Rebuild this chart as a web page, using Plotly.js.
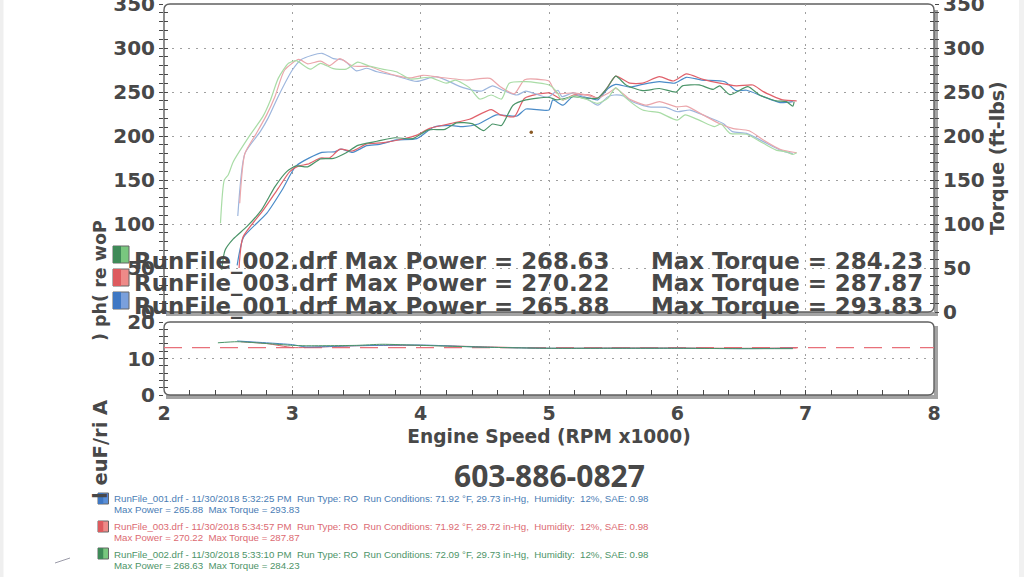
<!DOCTYPE html>
<html><head><meta charset="utf-8">
<script src="https://cdn.plot.ly/plotly-3.0.1.min.js"></script>
<style>html,body{margin:0;padding:0;background:#fff;overflow:hidden}#c{width:1024px;height:577px}</style>
</head><body><div id="c"></div><script>
const blueTorqueRpm=[2.575,2.63,2.75,2.81,2.89,3.0,3.07,3.23,3.32,3.40,3.5,3.58,3.66,3.79,3.97,4.12,4.33,4.47,4.56,4.64,4.75,4.82,4.99,5.07,5.1,5.19,5.29,5.38,5.46,5.51,5.58,5.65,5.78,5.91,6,6.1,6.23,6.36,6.43,6.54,6.67,6.8,6.9];
const blueTorque=[109,180,205,220,245,275,287,294,288,286,274,277,273,269,262,267.4,255,251,257,252,246.6,251,244,252,244.7,249,243,235,244.7,246.6,245.5,239,233,232.6,227.6,229.5,222,214,205,203,193.6,184,180];
const redTorqueRpm=[2.59,2.63,2.72,2.80,2.865,2.94,3.05,3.12,3.22,3.29,3.37,3.47,3.60,3.71,3.81,3.92,4.02,4.15,4.36,4.54,4.62,4.73,4.81,4.97,5.0,5.06,5.19,5.29,5.38,5.46,5.52,5.63,5.76,5.86,6.0,6.07,6.2,6.33,6.43,6.56,6.67,6.8,6.93];
const redTorque=[123.5,180,203,224,245,275,287,282,285,280,288,279.5,279,273,268.6,266,269,266.7,263.6,265.5,256,248,264,263.6,262.5,248.5,249,246.7,243,248.5,254,241.7,235,239,233,234,224,214,208.7,206,195.5,185,181];
const greenTorqueRpm=[2.44,2.47,2.50,2.54,2.67,2.77,2.83,2.89,2.97,3.03,3.14,3.22,3.32,3.42,3.51,3.60,3.71,3.81,3.92,4.07,4.20,4.27,4.38,4.46,4.55,4.63,4.69,4.82,5.0,5.06,5.10,5.19,5.29,5.38,5.46,5.52,5.60,5.73,5.86,6.0,6.06,6.17,6.29,6.34,6.41,6.54,6.67,6.77,6.85,6.90,6.93];
const greenTorque=[100.8,150,155.7,170.8,201,222,241,265.5,282.6,285.6,276,282.6,276.5,276,284,279.5,275.8,273,264.8,266.7,260,263.6,255,242,246.6,242,260,261.7,258,250.4,241,245.5,241.7,237,243,255,243,229.5,226.5,218,224,218,210.6,213.6,203,202,191.7,184,182,179,181];
const bluePowerRpm=[2.57,2.62,2.8,2.92,3.03,3.23,3.33,3.38,3.47,3.58,3.68,3.81,3.97,4.1,4.23,4.33,4.45,4.59,4.75,4.82,5.0,5.03,5.11,5.19,5.32,5.38,5.46,5.52,5.63,5.73,5.86,5.98,6.07,6.19,6.37,6.46,6.54,6.67,6.8,6.9];
const bluePower=[53,85,112,138.6,166,181.4,182,185,181.4,189,190.5,195.5,197,210,212,210.6,213.6,224,222.7,230.7,229.5,241,235,245.5,243,241,254,258.7,255.5,258.7,261.7,260,266.7,263.6,261.7,251.5,252,244.7,238,239];
const redPowerRpm=[2.585,2.615,2.775,2.89,2.98,3.05,3.12,3.22,3.29,3.37,3.47,3.58,3.71,3.86,3.97,4.07,4.23,4.38,4.55,4.62,4.73,4.81,5.0,5.11,5.19,5.32,5.38,5.45,5.52,5.63,5.73,5.86,5.97,6.07,6.2,6.33,6.46,6.59,6.67,6.82,6.93];
const redPower=[50,85,116,140.5,159.5,166,168,175,175,185,183,191,192.4,196.6,201,208.7,214,219,230,224,222,243,249,241,246.6,246.6,243,254,268,260,260,267.4,262.5,270.5,264.4,260,257,258,250.4,241,240];
const greenPowerRpm=[2.45,2.475,2.54,2.645,2.76,2.865,2.956,3.03,3.12,3.22,3.32,3.42,3.51,3.66,3.8,3.94,4.06,4.19,4.28,4.4,4.49,4.56,4.63,4.72,4.82,5,5.06,5.19,5.29,5.38,5.45,5.52,5.6,5.73,5.86,5.99,6.04,6.17,6.28,6.33,6.41,6.55,6.64,6.77,6.85,6.9,6.91];
const greenPower=[48,70,83,97,116,142.4,159.5,166,165,174,174.6,181,189.4,194,198,197,207,207.6,215,214,206,213.6,212,235,241,244,241,244.7,243,243,254,268,258,251.5,254,250,257,258,253,257,247,256,246.6,240,239,234,239];
const afrRpmA=[2.57,2.8,3.0,3.1,3.5,4,4.5,5,5.5,6,6.5,6.9];
const afrBlue=[14.8,14.3,13.8,13.2,13.5,13.7,13.1,12.8,12.8,12.8,12.7,12.8];
const afrRpmB=[2.6,2.8,3.0,3.1,3.5,4,4.5,5,5.5,6,6.5,6.93];
const afrRed=[14.6,14.1,13.0,13.0,13.5,13.6,13.2,12.8,12.9,12.9,12.8,12.9];
const afrRpmC=[2.42,2.57,2.8,3.0,3.1,3.5,3.7,4,4.5,5,5.5,6,6.5,6.9];
const afrGreen=[14.3,14.6,14.1,13.6,13.5,13.6,13.9,13.6,13.1,12.8,12.8,12.8,12.7,12.7];
const targetRpm=[2,8];
const targetAfr=[13,13];
const runRows=["RunFile_002.drf Max Power = 268.63","RunFile_003.drf Max Power = 270.22","RunFile_001.drf Max Power = 265.88"];
const torqueRows=["Max Torque = 284.23","Max Torque = 287.87","Max Torque = 293.83"];
const infoLines=[
 ["RunFile_001.drf - 11/30/2018 5:32:25 PM  Run Type: RO  Run Conditions: 71.92 °F, 29.73 in-Hg,  Humidity:  12%, SAE: 0.98","Max Power = 265.88  Max Torque = 293.83"],
 ["RunFile_003.drf - 11/30/2018 5:34:57 PM  Run Type: RO  Run Conditions: 71.92 °F, 29.72 in-Hg,  Humidity:  12%, SAE: 0.98","Max Power = 270.22  Max Torque = 287.87"],
 ["RunFile_002.drf - 11/30/2018 5:33:10 PM  Run Type: RO  Run Conditions: 72.09 °F, 29.73 in-Hg,  Humidity:  12%, SAE: 0.98","Max Power = 268.63  Max Torque = 284.23"]];
const infoColors=["#4a7db5","#dc6a72","#4d9468"];

const W=1024,H=577,L=164,R=934,T=4,B=395;
const px=x=>(x-L)/(R-L), py=y=>(B-y)/(B-T);
const ink="#484848", F="DejaVu Sans, sans-serif";
const line=(x,y,c,xa,ya,w)=>({x,y,type:"scatter",mode:"lines",xaxis:xa,yaxis:ya,line:{color:c,width:w||1.2,shape:"spline",smoothing:0.6},hoverinfo:"skip",showlegend:false});
const traces=[
 line(blueTorqueRpm,blueTorque,"#9db6dd","x2","y3"),
 line(redTorqueRpm,redTorque,"#eba6ab","x2","y3"),
 line(greenTorqueRpm,greenTorque,"#a9dca6","x2","y5"),
 line(bluePowerRpm,bluePower,"#4a8bc8","x2","y2"),
 line(redPowerRpm,redPower,"#e0606a","x2","y2"),
 line(greenPowerRpm,greenPower,"#4a9468","x2","y4"),
 {x:targetRpm,y:targetAfr,type:"scatter",mode:"lines",xaxis:"x",yaxis:"y",line:{color:"#e8707a",width:1.2,dash:"18px,10px"},hoverinfo:"skip",showlegend:false},
 line(afrRpmB,afrRed,"#d9606a","x","y",1),
 line(afrRpmA,afrBlue,"#4a86c4","x","y",1),
 line(afrRpmC,afrGreen,"#4a9468","x","y6",1)
];
const grid={showgrid:true,gridcolor:"#a0a0a0",griddash:"1.5px,6.5px",gridwidth:1};
const tf={family:F,size:20,color:ink,weight:700};
const yUpper={range:[0,350],domain:[py(312),1],dtick:50,tick0:0,ticks:"outside",ticklen:4,tickcolor:ink,tickwidth:1,ticklabeloverflow:"allow",
  minor:{dtick:10,ticks:"outside",ticklen:4,tickcolor:ink,tickwidth:1,showgrid:false},zeroline:false,showline:false,fixedrange:true};
const layout={
 width:W,height:H,margin:{l:L,r:W-R,t:T,b:H-B,pad:0},paper_bgcolor:"#fff",plot_bgcolor:"rgba(0,0,0,0)",showlegend:false,
 xaxis:{range:[2,8],domain:[0,1],anchor:"y",dtick:1,tick0:2,...grid,ticks:"inside",ticklen:5,tickcolor:ink,tickwidth:1,
   minor:{dtick:0.2,ticks:"inside",ticklen:5,tickcolor:ink,tickwidth:1,showgrid:false},tickfont:{family:F,size:19,color:ink,weight:700},ticklabelstandoff:5,zeroline:false,
   title:{text:"Engine Speed (RPM x1000)",font:{family:F,size:18.6,color:ink,weight:700},standoff:6}},
 xaxis2:{range:[2,8],domain:[0,1],anchor:"y2",dtick:1,tick0:2,...grid,showticklabels:false,ticks:"",zeroline:false},
 yaxis:{range:[0,20],domain:[0,py(322)],anchor:"x",dtick:10,tick0:0,...grid,ticks:"outside",ticklen:4,tickcolor:ink,
   minor:{dtick:2,ticks:"outside",ticklen:4,tickcolor:ink,showgrid:false},tickfont:tf,zeroline:false,ticklabeloverflow:"allow"},
 yaxis6:{range:[0,20],domain:[0,py(322)],anchor:"x",overlaying:"y",side:"left",dtick:10,ticks:"inside",ticklen:4,tickcolor:ink,showticklabels:false,showgrid:false,
   minor:{dtick:2,ticks:"inside",ticklen:4,tickcolor:ink,showgrid:false},zeroline:false},
 yaxis2:{...yUpper,anchor:"x2",...grid,tickfont:tf},
 yaxis3:{...yUpper,anchor:"x2",overlaying:"y2",side:"right",showgrid:false,tickfont:tf,
   title:{text:"Torque (ft-lbs)",font:{family:F,size:19,color:ink,weight:700},standoff:6}},
 yaxis4:{...yUpper,anchor:"x2",overlaying:"y2",side:"left",ticks:"inside",minor:{dtick:10,ticks:"inside",ticklen:4,tickcolor:ink,tickwidth:1,showgrid:false},showticklabels:false,showgrid:false},
 yaxis5:{...yUpper,anchor:"x2",overlaying:"y2",side:"right",ticks:"inside",minor:{dtick:10,ticks:"inside",ticklen:4,tickcolor:ink,tickwidth:1,showgrid:false},showticklabels:false,showgrid:false},
 shapes:[],annotations:[]
};
const rect=(x0,y0,x1,y1,fill,lc,lw,layer)=>({type:"rect",xref:"paper",yref:"paper",x0:px(x0),x1:px(x1),y0:py(y0),y1:py(y1),fillcolor:fill,line:{color:lc||fill,width:lw||0},layer:layer||"below"});
const frame=(x0,y0,x1,y1)=>{const r=6;return {type:"path",xref:"paper",yref:"paper",layer:"below",line:{color:"#606060",width:1.4},
  path:`M ${px(x0)} ${py(y1-r)} L ${px(x0)} ${py(y0+r)} Q ${px(x0)} ${py(y0)} ${px(x0+r)} ${py(y0)} L ${px(x1-r)} ${py(y0)} Q ${px(x1)} ${py(y0)} ${px(x1)} ${py(y0+r)} L ${px(x1)} ${py(y1-r)} Q ${px(x1)} ${py(y1)} ${px(x1-r)} ${py(y1)} L ${px(x0+r)} ${py(y1)} Q ${px(x0)} ${py(y1)} ${px(x0)} ${py(y1-r)} Z`}};
layout.shapes.push(
 rect(0,0,3.5,577,"#efefef"),
 rect(1019,0,1024,577,"#f1f1f1"),
 rect(166,312,938,316,"#a3a3a3"),rect(934,10,938,316,"#a3a3a3"),
 rect(166,395,938,399,"#a3a3a3"),rect(934,326,938,399,"#a3a3a3"),
 frame(164,4,934,312),frame(164,322,934,395),
 {type:"circle",xref:"paper",yref:"paper",x0:px(529.5),x1:px(533),y0:py(134),y1:py(130.5),fillcolor:"#8a5a25",line:{width:0},layer:"below"},
 {type:"line",xref:"paper",yref:"paper",x0:px(55),x1:px(70),y0:py(563),y1:py(558),line:{color:"#9a9aa8",width:1},layer:"below"}
);
const sw=[[113,246,"#3f8a58","#79c77f"],[113,269,"#dd5a5e","#ee8a88"],[113,292,"#3f78c4","#7aa0dc"],
          [98,493,"#3f78c4","#5a8fd8"],[98,521,"#dd5a5e","#ee8a88"],[98,548,"#3f8a58","#79c77f"]];
sw.forEach((s,i)=>{const w=i<3?16:10.5,h=i<3?17:11;
  layout.shapes.push(rect(s[0],s[1],s[0]+w,s[1]+h,s[3],"#666",1,"above"));
  layout.shapes.push(rect(s[0],s[1],s[0]+w/2,s[1]+h,s[2],null,0,"above"));});
const note=(text,x,y,size,anchor,opt)=>Object.assign({text,xref:"paper",yref:"paper",x:px(x),y:py(y),xanchor:anchor||"left",yanchor:"middle",showarrow:false,
  font:{family:F,size,color:ink,weight:700}},opt||{});
runRows.forEach((t,i)=>{const y=[261,283.5,306][i];
  layout.annotations.push(note(t,132,y,22.9));
  layout.annotations.push(note(torqueRows[i],649,y,22.9));});
layout.annotations.push(note(") ph( re woP",100,281,17.5,"center",{textangle:-90}));
layout.annotations.push(note("l euF/ri A",100,450,19.5,"center",{textangle:-90}));
layout.annotations.push(note("603-886-0827",549.5,476,30,"center",{font:{family:"Open Sans, sans-serif",size:30,color:ink,weight:700}}));
infoLines.forEach((ls,i)=>ls.forEach((t,j)=>{
  layout.annotations.push(note(t,112,[498.5,526,554][i]+j*11,9.7,"left",{font:{family:"Liberation Sans, Arial, sans-serif",size:9.7,color:infoColors[i]}}));}));
Plotly.newPlot("c",traces,layout,{staticPlot:true,displayModeBar:false});
</script></body></html>
